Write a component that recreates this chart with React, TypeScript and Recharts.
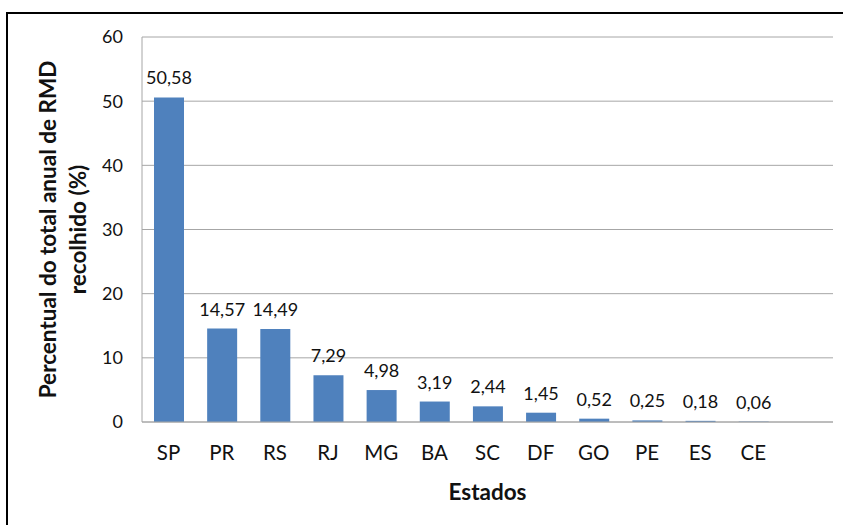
import React from 'react';
import { BarChart, Bar, XAxis, YAxis, CartesianGrid, LabelList } from 'recharts';

// Estados (a última posição fica vazia, como no gráfico original do Excel)
const estados = ['SP', 'PR', 'RS', 'RJ', 'MG', 'BA', 'SC', 'DF', 'GO', 'PE', 'ES', 'CE', ''];
const percentuais: (number | null)[] = [50.58, 14.57, 14.49, 7.29, 4.98, 3.19, 2.44, 1.45, 0.52, 0.25, 0.18, 0.06, null];
const yTicks = [0, 10, 20, 30, 40, 50, 60];

const FONT = 'Lato, "Open Sans", sans-serif';
const GRID = '#a6a6a6';
const TEXT = '#111';

const data = estados.map((estado, i) => ({ estado, valor: percentuais[i] }));

const fmt = (v: unknown) =>
  typeof v === 'number' ? v.toFixed(2).replace('.', ',') : '';

function YTitle({ viewBox }: any) {
  const cy = viewBox.y + viewBox.height / 2;
  return (
    <g fontFamily={FONT} fontWeight="bold" fontSize={22.5} fill={TEXT}>
      <text x={47} y={cy} transform={`rotate(-90, 47, ${cy})`} textAnchor="middle" dominantBaseline="central">
        Percentual do total anual de RMD
      </text>
      <text x={77} y={cy} transform={`rotate(-90, 77, ${cy})`} textAnchor="middle" dominantBaseline="central">
        recolhido (%)
      </text>
    </g>
  );
}

function XTitle({ viewBox }: any) {
  return (
    <text
      x={viewBox.x + viewBox.width / 2}
      y={491}
      textAnchor="middle"
      dominantBaseline="central"
      fontFamily={FONT}
      fontWeight="bold"
      fontSize={22.5}
      fill={TEXT}
    >
      Estados
    </text>
  );
}

export default function App() {
  return (
    <div style={{ position: 'absolute', left: 0, top: 0, width: 843, height: 525, overflow: 'hidden', background: '#fff' }}>
      <div
        style={{
          position: 'absolute', left: 6, top: 12, width: 900, height: 600,
          border: '2px solid #000', boxSizing: 'border-box',
        }}
      />
      <div style={{ position: 'absolute', left: 0, top: 0 }}>
        <BarChart width={843} height={525} data={data} margin={{ top: 37, right: 10, bottom: 0, left: 0 }}>
          <CartesianGrid vertical={false} stroke={GRID} strokeWidth={1} />
          <XAxis
            dataKey="estado"
            height={103}
            tickSize={0}
            tickMargin={23}
            axisLine={{ stroke: GRID }}
            tick={{ fontFamily: FONT, fontSize: 20.5, fill: TEXT }}
            interval={0}
            label={<XTitle />}
          />
          <YAxis
            width={142}
            domain={[0, 60]}
            ticks={yTicks}
            tickSize={0}
            tickMargin={19}
            axisLine={{ stroke: GRID }}
            tick={{ fontFamily: FONT, fontSize: 18, fill: TEXT }}
            label={<YTitle />}
          />
          <YAxis
            yAxisId="borda"
            orientation="right"
            width={0}
            tick={false}
            tickLine={false}
            axisLine={{ stroke: GRID }}
          />
          <Bar dataKey="valor" fill="#4f81bd" barSize={30} isAnimationActive={false}>
            <LabelList
              dataKey="valor"
              position="top"
              offset={13}
              formatter={fmt}
              style={{ fontFamily: FONT, fontSize: 18, fill: TEXT }}
            />
          </Bar>
        </BarChart>
      </div>
    </div>
  );
}
